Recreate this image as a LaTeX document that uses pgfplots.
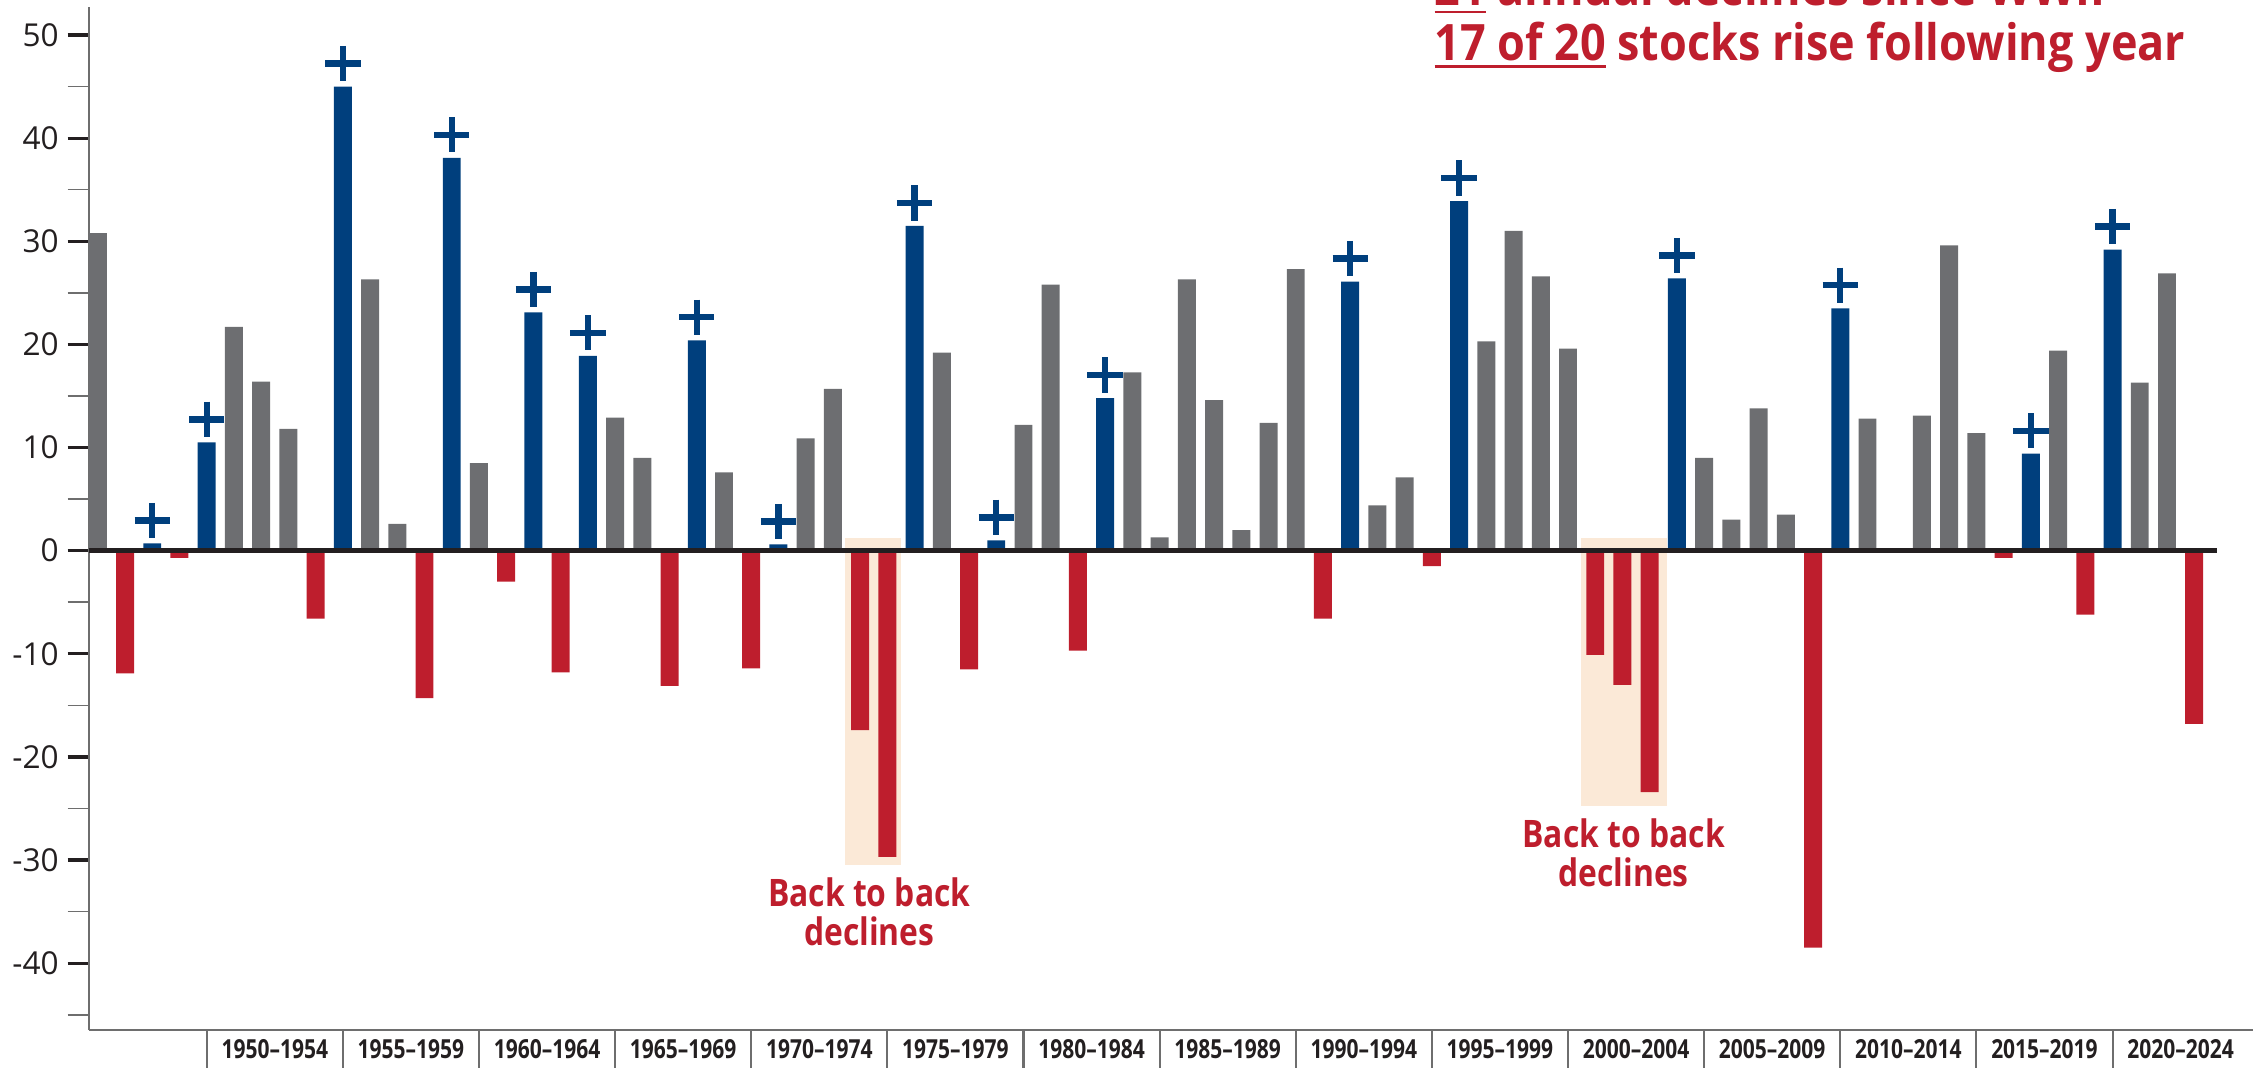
\documentclass[border=0pt]{standalone}
\usepackage{fontspec}
\setmainfont{Open Sans}
\newfontfamily\condfont{Open Sans}[FakeStretch=0.80]
\newfontfamily\titlefont{Open Sans}[FakeStretch=0.895]
\newfontfamily\notefont{Open Sans}[FakeStretch=0.84]
\usepackage{pgfplots}
\usepackage{pgfplotstable}
\pgfplotsset{compat=1.18}

\definecolor{barGray}{HTML}{6D6E71}
\definecolor{barRed}{HTML}{BE1E2D}
\definecolor{barBlue}{HTML}{003F7D}
\definecolor{peach}{HTML}{FBE9D7}
\definecolor{axGray}{HTML}{6E6E6E}
\definecolor{inkBlack}{HTML}{231F20}

% underline with a thicker rule
\newcommand\ul[1]{\setbox0\hbox{#1}\rlap{\rule[-3pt]{\wd0}{1.1pt}}\box0\relax}

% annual change, %
\pgfplotstableread{
year val
1945 30.8
1950 21.7
1951 16.4
1952 11.8
1955 26.3
1956 2.6
1959 8.5
1964 12.9
1965 9.0
1968 7.6
1971 10.9
1972 15.7
1976 19.2
1979 12.2
1980 25.8
1983 17.3
1984 1.3
1985 26.3
1986 14.6
1987 2.0
1988 12.4
1989 27.3
1992 4.4
1993 7.1
1996 20.3
1997 31.0
1998 26.6
1999 19.6
2004 9.0
2005 3.0
2006 13.8
2007 3.5
2010 12.8
2012 13.1
2013 29.6
2014 11.4
2017 19.4
2020 16.3
2021 26.9
}\upyears

\pgfplotstableread{
year val
1946 -11.9
1948 -0.7
1953 -6.6
1957 -14.3
1960 -3.0
1962 -11.8
1966 -13.1
1969 -11.4
1973 -17.4
1974 -29.7
1977 -11.5
1981 -9.7
1990 -6.6
1994 -1.5
2000 -10.1
2001 -13.0
2002 -23.4
2008 -38.5
2015 -0.7
2018 -6.2
2022 -16.8
}\downyears

\pgfplotstableread{
year val
1947 0.7
1949 10.5
1954 45.0
1958 38.1
1961 23.1
1963 18.9
1967 20.4
1970 0.6
1975 31.5
1978 1.0
1982 14.8
1991 26.1
1995 33.9
2003 26.4
2009 23.5
2016 9.4
2019 29.2
}\afteryears

\begin{document}
\begin{tikzpicture}
\begin{axis}[
  at={(1.24cm,0.52cm)}, anchor=south west,
  scale only axis, width=30.12cm, height=14.24cm,
  xmin=-0.32, xmax=79.16, ymin=-46.5, ymax=52.7,
  axis x line*=bottom, axis y line*=left,
  axis line style={axGray, line width=0.8pt},
  tick align=outside,
  ytick={-40,-30,...,50},
  yticklabels={-40,-30,-20,-10,0,10,20,30,40,50},
  minor ytick={-45,-35,...,45},
  major tick length=0.3cm, minor tick length=0.3cm,
  major y tick style={inkBlack, line width=1.3pt},
  minor y tick style={axGray, line width=0.6pt},
  yticklabel style={font=\fontsize{12.5}{14}\selectfont, text=inkBlack},
  xtick={6.5,11.5,...,76.5},
  xticklabels={1950–1954,1955–1959,1960–1964,1965–1969,1970–1974,1975–1979,1980–1984,1985–1989,1990–1994,1995–1999,2000–2004,2005–2009,2010–2014,2015–2019,2020–2024},
  major x tick style={draw=none},
  xticklabel style={font=\condfont\bfseries\fontsize{10.4}{12}\selectfont,
    text=inkBlack, yshift=0.29cm},
  clip=false,
]
% highlighted back-to-back declines
\fill[peach] (axis cs:27.45,1.2) rectangle (axis cs:29.5,-30.5);
\fill[peach] (axis cs:54.48,1.2) rectangle (axis cs:57.62,-24.8);

\addplot[ybar, bar width=0.25cm, bar shift=0pt, fill=barGray, draw=none]
  table[x expr=\thisrow{year}-1945, y=val] {\upyears};
\addplot[ybar, bar width=0.25cm, bar shift=0pt, fill=barRed, draw=none]
  table[x expr=\thisrow{year}-1945, y=val] {\downyears};
\addplot[ybar, bar width=0.25cm, bar shift=0pt, fill=barBlue, draw=none]
  table[x expr=\thisrow{year}-1945, y=val] {\afteryears};

% zero line
\draw[inkBlack, line width=2.1pt] (axis cs:-0.32,0) -- (axis cs:77.85,0);

% plus signs over the years that follow a decline
\addplot[only marks, mark=+, mark size=7pt,
  mark options={barBlue, line width=2.5pt, yshift=0.32cm}]
  table[x expr=\thisrow{year}-1945, y=val] {\afteryears};

% period separators below the axis
\pgfplotsinvokeforeach{4,9,...,74}{
  \draw[axGray, line width=0.8pt] (axis cs:#1,-46.5) -- (axis cs:#1,-52);
}
\end{axis}

\node[anchor=base west, text=barRed, inner sep=0,
  font=\titlefont\bfseries\fontsize{19.9}{22}\selectfont] at (19.96cm,14.78cm)
  {\ul{21} annual declines since WWII};
\node[anchor=base west, text=barRed, inner sep=0,
  font=\titlefont\bfseries\fontsize{19.9}{22}\selectfont] at (19.96cm,14.02cm)
  {\ul{17 of 20} stocks rise following year};

\node[anchor=base, text=barRed, inner sep=0,
  font=\notefont\bfseries\fontsize{15}{17}\selectfont] at (12.10cm,2.24cm) {Back to back};
\node[anchor=base, text=barRed, inner sep=0,
  font=\notefont\bfseries\fontsize{15}{17}\selectfont] at (12.10cm,1.70cm) {declines};
\node[anchor=base, text=barRed, inner sep=0,
  font=\notefont\bfseries\fontsize{15}{17}\selectfont] at (22.60cm,3.06cm) {Back to back};
\node[anchor=base, text=barRed, inner sep=0,
  font=\notefont\bfseries\fontsize{15}{17}\selectfont] at (22.60cm,2.52cm) {declines};

\pgfresetboundingbox
\useasboundingbox (0,0) rectangle (31.36cm,14.86cm);
\end{tikzpicture}
\end{document}
